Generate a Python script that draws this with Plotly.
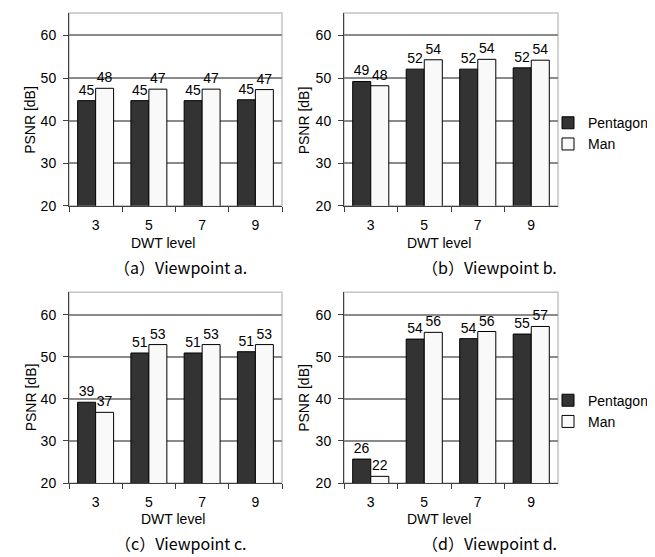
import plotly.graph_objects as go

W, H = 655, 557

levels = ["3", "5", "7", "9"]
series_names = ["Pentagon", "Man"]

pentagon_a = [44.7, 44.7, 44.7, 44.9]
man_a = [47.6, 47.4, 47.4, 47.3]
pentagon_b = [49.2, 52.1, 52.1, 52.4]
man_b = [48.2, 54.3, 54.4, 54.2]
pentagon_c = [39.2, 50.9, 50.9, 51.2]
man_c = [36.8, 52.9, 52.9, 52.9]
pentagon_d = [25.7, 54.2, 54.3, 55.4]
man_d = [21.6, 55.8, 56.0, 57.2]

captions = ["（a）Viewpoint a.", "（b）Viewpoint b.", "（c）Viewpoint c.", "（d）Viewpoint d."]
x_title = "DWT level"
y_title = "PSNR [dB]"
y_ticks = [20, 30, 40, 50, 60]

panels = [
    (pentagon_a, man_a),
    (pentagon_b, man_b),
    (pentagon_c, man_c),
    (pentagon_d, man_d),
]

FONT = "Liberation Sans, Arial, sans-serif"
FS = 14
colors = {"Pentagon": "#333333", "Man": "#f9f9f9"}

def px_x(p):
    return p / W

def px_y(p):
    return 1 - p / H

# plot area pixel boxes (left, right, top, bottom)
boxes = [
    (61, 274, 5, 200.7),
    (336, 550, 5, 200.7),
    (61, 274, 288.5, 482),
    (336, 550, 288.5, 482),
]

fig = go.Figure()
legend_ids = [None, "legend", None, "legend2"]

for i, (pv, mv) in enumerate(panels):
    sfx = "" if i == 0 else str(i + 1)
    for name, vals in zip(series_names, (pv, mv)):
        kw = dict(
            x=levels, y=vals, name=name,
            marker=dict(color=colors[name], line=dict(color="#000000", width=1)),
            texttemplate="%{y:.0f}", textposition="outside",
            textfont=dict(family=FONT, size=FS, color="#000000"),
            cliponaxis=False,
            xaxis="x" + sfx, yaxis="y" + sfx,
            showlegend=legend_ids[i] is not None,
        )
        if legend_ids[i] is not None:
            kw["legend"] = legend_ids[i]
        fig.add_trace(go.Bar(**kw))

layout = dict(
    width=W, height=H,
    margin=dict(l=0, r=0, t=0, b=0),
    paper_bgcolor="white", plot_bgcolor="white",
    barmode="group", bargap=0.325, bargroupgap=0,
    font=dict(family=FONT, size=FS, color="#000000"),
    shapes=[], annotations=[],
)

for i, (l, r, t, b) in enumerate(boxes):
    sfx = "" if i == 0 else str(i + 1)
    layout["xaxis" + sfx] = dict(
        domain=[px_x(l), px_x(r)], anchor="y" + sfx,
        type="category", categoryorder="array", categoryarray=levels,
        showline=True, linecolor="#404040", linewidth=1,
        ticks="outside", tickson="boundaries", ticklen=5, tickcolor="#404040",
        ticklabelstandoff=6,
        showgrid=False, zeroline=False,
        tickfont=dict(family=FONT, size=FS),
    )
    layout["yaxis" + sfx] = dict(
        domain=[px_y(b), px_y(t)], anchor="x" + sfx,
        range=[20, 65.3], tickvals=y_ticks,
        showline=True, linecolor="#404040", linewidth=1,
        ticks="outside", ticklen=5, tickcolor="#404040",
        ticklabelstandoff=4,
        showgrid=True, gridcolor="#8a8a8a", gridwidth=1.5,
        zeroline=False,
        tickfont=dict(family=FONT, size=FS),
    )
    layout["shapes"].append(dict(
        type="rect", xref="x" + sfx + " domain", yref="y" + sfx + " domain",
        x0=0, x1=1, y0=0, y1=1, line=dict(color="#c4c4c4", width=1.5), layer="below",
    ))

# axis titles and captions (pixel centres)
xt_pos = [(155, 238), (431, 238), (165, 518), (431, 518)]
yt_pos = [(22.5, 114), (296, 114), (22.5, 395.5), (296, 395.5)]
cap_pos = [(173, 263), (481, 263), (173, 543), (481, 543)]
for i in range(4):
    layout["annotations"].append(dict(
        text=x_title, x=px_x(xt_pos[i][0]), y=px_y(xt_pos[i][1]),
        xref="paper", yref="paper", showarrow=False,
        xanchor="center", yanchor="middle", font=dict(family=FONT, size=FS),
    ))
    layout["annotations"].append(dict(
        text=y_title, x=px_x(yt_pos[i][0]), y=px_y(yt_pos[i][1]),
        xref="paper", yref="paper", showarrow=False, textangle=-90,
        xanchor="center", yanchor="middle", font=dict(family=FONT, size=FS),
    ))
    layout["annotations"].append(dict(
        text=captions[i], x=px_x(cap_pos[i][0]), y=px_y(cap_pos[i][1]),
        xref="paper", yref="paper", showarrow=False,
        xanchor="center", yanchor="middle",
        font=dict(family="Noto Sans CJK JP, sans-serif", size=16),
    ))

leg_common = dict(
    xref="paper", yref="paper", xanchor="left", yanchor="middle",
    bgcolor="rgba(0,0,0,0)", font=dict(family=FONT, size=FS),
    traceorder="normal", itemwidth=30, tracegroupgap=0,
)
layout["legend"] = dict(x=px_x(540), y=px_y(127.5), **leg_common)
layout["legend2"] = dict(x=px_x(540), y=px_y(409), **leg_common)

fig.update_layout(**layout)
fig.write_html("out.html")
